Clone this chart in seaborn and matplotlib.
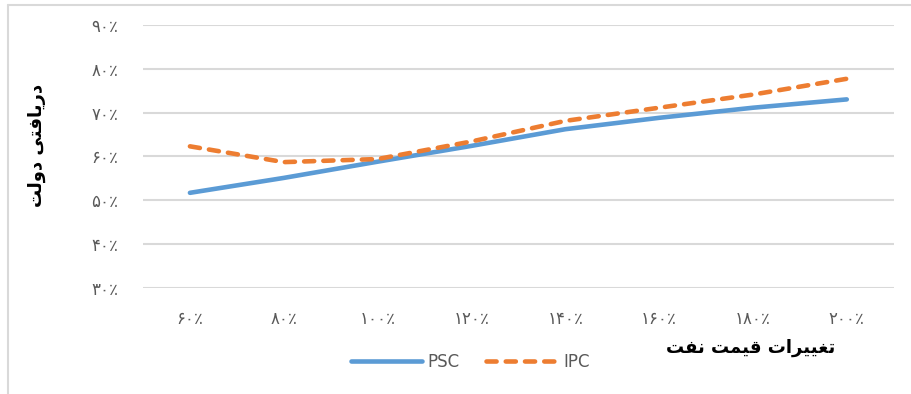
import pandas as pd
import matplotlib.pyplot as plt
import seaborn as sns
from matplotlib.lines import Line2D

# --- datos ---
x_labels = ['۶۰٪', '۸۰٪', '۱۰۰٪', '۱۲۰٪', '۱۴۰٪', '۱۶۰٪', '۱۸۰٪', '۲۰۰٪']
psc = [51.7, 55.1, 58.8, 62.4, 66.2, 68.8, 71.1, 73.0]
ipc = [62.3, 58.7, 59.4, 63.4, 68.1, 71.1, 74.1, 77.7]
y_ticks = [30, 40, 50, 60, 70, 80, 90]
y_tick_labels = ['۳۰٪', '۴۰٪', '۵۰٪', '۶۰٪', '۷۰٪', '۸۰٪', '۹۰٪']

# etiquetas persas en formas de presentación, orden visual
y_title = '\ufe96\ufedf\ufeed\ufea9 \ufef0\ufe98\ufed3\ufe8e\ufef3\ufead\ufea9'   # دریافتی دولت
x_title = '\ufe96\ufed4\ufee7 \ufe96\ufee4\ufef4\ufed7 \ufe95\ufe8d\ufeae\ufef4\ufef4\ufed0\ufe97'  # تغییرات قیمت نفت

df = pd.DataFrame({'x': list(range(len(x_labels))), 'PSC': psc, 'IPC': ipc})

sns.set_style('white')
plt.rcParams['font.family'] = ['DejaVu Sans']

fig = plt.figure(figsize=(9.11, 3.94), dpi=100)
ax = fig.add_axes([0.157, 0.269, 0.824, 0.668])

blue = '#5b9bd5'
orange = '#ed7d31'

sns.lineplot(data=df, x='x', y='PSC', ax=ax, color=blue, linewidth=3.3,
             solid_capstyle='round')
sns.lineplot(data=df, x='x', y='IPC', ax=ax, color=orange, linewidth=3.3,
             dashes=False)
# aplicar guiones a la segunda línea
ipc_line = ax.lines[-1]
ipc_line.set_linestyle((0, (2.2, 2.0)))
ipc_line.set_dash_capstyle('round')

ax.set_xlim(-0.5, len(x_labels) - 0.5)
ax.set_ylim(30, 90)
ax.set_yticks(y_ticks)
ax.set_yticklabels(y_tick_labels)
ax.set_xticks(range(len(x_labels)))
ax.set_xticklabels(x_labels)
ax.tick_params(axis='both', length=0, labelsize=12, colors='#595959')
ax.tick_params(axis='y', pad=18)
ax.tick_params(axis='x', pad=16)
ax.grid(axis='y', color='#d9d9d9', linewidth=1.5)
for s in ax.spines.values():
    s.set_visible(False)
ax.set_xlabel('')
ax.set_ylabel('')

# títulos de ejes
fig.text(0.040, 0.63, y_title, rotation=90, ha='center', va='center',
         fontsize=13, fontweight='bold', color='black')
fig.text(0.824, 0.117, x_title, ha='center', va='center',
         fontsize=13, fontweight='bold', color='black')

# leyenda
handles = [Line2D([], [], color=blue, linewidth=3.3, solid_capstyle='round'),
           Line2D([], [], color=orange, linewidth=3.3, linestyle=(0, (2.2, 2.0)),
                  dash_capstyle='round')]
leg = fig.legend(handles, ['PSC', 'IPC'], loc='center', bbox_to_anchor=(0.516, 0.081),
                 ncol=2, frameon=False, handlelength=4.3, handletextpad=0.3,
                 columnspacing=1.6, fontsize=12)
for t in leg.get_texts():
    t.set_color('#595959')

# marco de la figura
fig.add_artist(plt.Line2D([8 / 911, 1], [1 - 5 / 394, 1 - 5 / 394], transform=fig.transFigure,
                          color='#d9d9d9', linewidth=1.5))
fig.add_artist(plt.Line2D([8 / 911, 8 / 911], [0, 1 - 5 / 394], transform=fig.transFigure,
                          color='#d9d9d9', linewidth=1.5))

fig.savefig('out.png', dpi=100)
